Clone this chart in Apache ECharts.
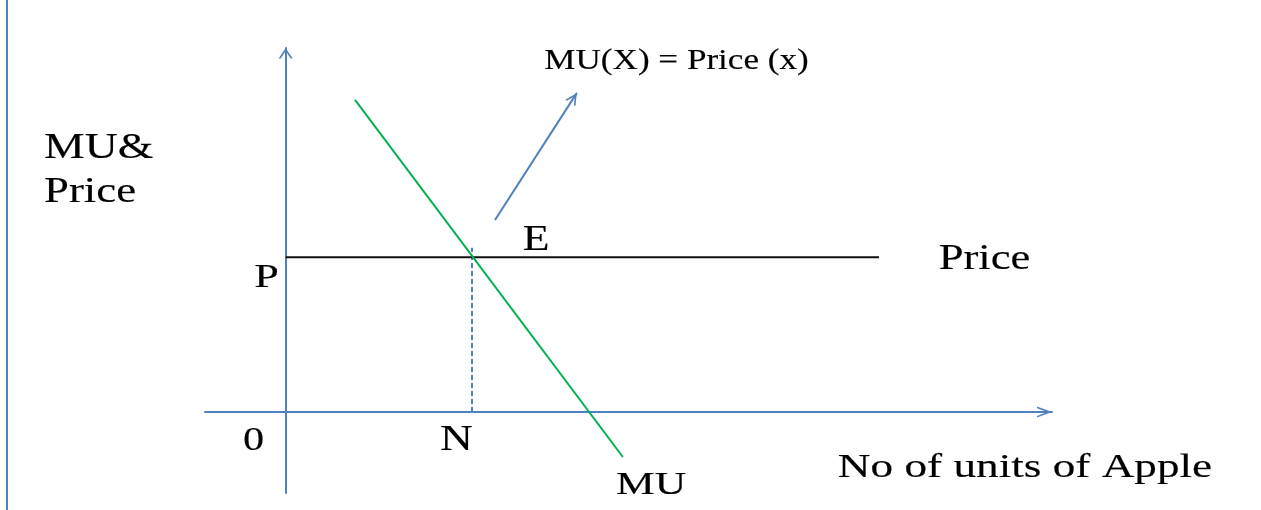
<!DOCTYPE html>
<html>
<head>
<meta charset="utf-8">
<title>MU and Price</title>
<script src="https://cdn.jsdelivr.net/npm/echarts@6/dist/echarts.min.js"></script>
<style>
html, body { margin: 0; padding: 0; background: #fff; }
#main { width: 1261px; height: 510px; }
</style>
</head>
<body>
<div id="main"></div>
<script>
// values (x: units of apple, y: MU & price)
var xRange = [-2, 19];
var yRange = [-2, 9];
var muLine = [[1.72, 7.72], [8.36, -1.11]];
var priceLine = [[0, 3.83], [14.71, 3.83]];
var nLine = [[4.62, 0], [4.62, 4.06]];
var noteArrow = [[5.19, 4.75], [7.22, 7.89]];

var blue = '#4f81bd';
var green = '#00b050';
var serif = '"Liberation Serif", "Times New Roman", serif';

// open arrow head drawn as a thin filled V, tip in the middle of the box
function chevron(half, back, w) {
    var len = Math.sqrt(half * half + back * back);
    var dx = w * len / back;
    var inner = back * dx / half;
    return 'path://M0,0 L' + half + ',' + back + ' L' + (half - dx) + ',' + back +
        ' L0,' + inner + ' L' + (dx - half) + ',' + back + ' L' + (-half) + ',' + back +
        ' Z M0,' + (-back) + ' L0.01,' + (-back) + ' Z';
}

function label(text, x, y, size, sx, align) {
    return {
        type: 'text',
        x: x,
        y: y,
        scaleX: sx,
        silent: true,
        style: {
            text: text,
            font: size + 'px ' + serif,
            fill: '#000',
            stroke: '#000',
            lineWidth: 0.15,
            align: align || 'center',
            verticalAlign: 'middle',
            textAlign: align || 'center',
            textVerticalAlign: 'middle'
        }
    };
}

var myChart = echarts.init(document.getElementById('main'));
var option = {
    animation: false,
    backgroundColor: '#fff',
    grid: { left: 205, right: 209, top: 48, bottom: 17 },
    xAxis: {
        type: 'value',
        min: xRange[0],
        max: xRange[1],
        splitLine: { show: false },
        axisTick: { show: false },
        axisLabel: { show: false },
        axisLine: {
            onZero: true,
            lineStyle: { color: blue, width: 2 },
            symbol: ['none', chevron(5.5, 15, 1.6)],
            symbolSize: [11, 30]
        }
    },
    yAxis: {
        type: 'value',
        min: yRange[0],
        max: yRange[1],
        splitLine: { show: false },
        axisTick: { show: false },
        axisLabel: { show: false },
        axisLine: {
            onZero: true,
            lineStyle: { color: blue, width: 2 },
            symbol: ['none', chevron(7, 10.5, 1.7)],
            symbolSize: [14, 21]
        }
    },
    series: [
        {
            name: 'Price',
            type: 'line',
            data: priceLine,
            symbol: 'none',
            lineStyle: { color: '#111', width: 2 },
            z: 3
        },
        {
            name: 'N',
            type: 'line',
            data: nLine,
            symbol: 'none',
            lineStyle: { color: blue, width: 2, type: [5, 3] },
            z: 2
        },
        {
            name: 'MU',
            type: 'line',
            data: muLine,
            symbol: 'none',
            lineStyle: { color: green, width: 2 },
            z: 4
        },
        {
            name: 'note',
            type: 'line',
            data: [],
            markLine: {
                silent: true,
                symbol: ['none', chevron(6, 12, 1.6)],
                symbolSize: [12, 24],
                label: { show: false },
                lineStyle: { color: blue, width: 2, type: 'solid' },
                data: [[{ coord: noteArrow[0] }, { coord: noteArrow[1] }]]
            }
        }
    ],
    graphic: [
        {
            type: 'line',
            silent: true,
            shape: { x1: 7, y1: 0, x2: 7, y2: 510 },
            style: { stroke: blue, lineWidth: 2 }
        },
        label('MU&', 44, 149, 36, 1.27, 'left'),
        label('Price', 44, 193, 35, 1.28, 'left'),
        label('MU(X) = Price (x)', 676.5, 61.5, 29, 1.21),
        label('E', 536, 240.5, 35, 1.25),
        label('P', 266.5, 278, 34, 1.3),
        label('0', 253.5, 441, 33, 1.28),
        label('N', 456.5, 440.5, 35, 1.3),
        label('MU', 651, 485.5, 32, 1.36),
        label('Price', 984.5, 259.5, 36, 1.24),
        label('No of units of Apple', 1025, 468, 34, 1.33)
    ]
};
myChart.setOption(option);
</script>
</body>
</html>
